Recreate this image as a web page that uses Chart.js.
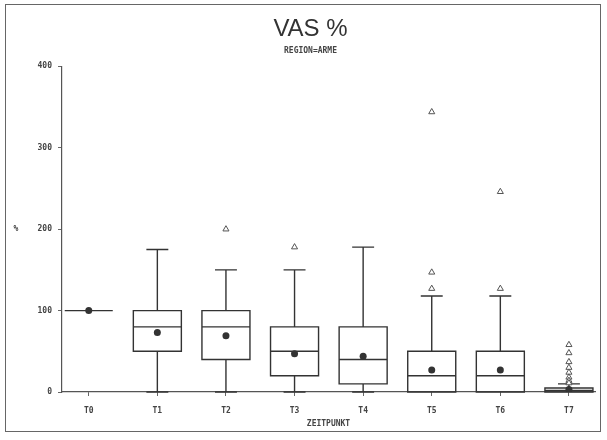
<!DOCTYPE html>
<html>
<head>
<meta charset="utf-8">
<script src="https://cdn.jsdelivr.net/npm/chart.js@4.4.1/dist/chart.umd.min.js"></script>
<style>
  html, body { margin: 0; padding: 0; background: #fff; }
  #wrap { width: 607px; height: 440px; }
</style>
</head>
<body>
<div id="wrap"><canvas id="vasChart" width="607" height="440"></canvas></div>
<script>
// categories (time points)
const categories = ['T0', 'T1', 'T2', 'T3', 'T4', 'T5', 'T6', 'T7'];

// box plot statistics per time point (VAS %)
const whiskerLow  = [100,   0,   0,   0,   0,   0,   0,  0];
const quart1      = [100,  50,  40,  20,  10,   0,   0,  0];
const medians     = [100,  80,  80,  50,  40,  20,  20,  2];
const quart3      = [100, 100, 100,  80,  80,  50,  50,  5];
const whiskerHigh = [100, 175, 150, 150, 178, 118, 118, 10];
const means       = [100,  73,  69,  47,  44,  27,  27,  3];

// outliers per time point
const outliers = [
    [],
    [],
    [200],
    [178],
    [],
    [344, 147, 127],
    [246, 127],
    [58, 48, 37, 30, 24, 18, 14, 11]
];

const yTicks = [0, 100, 200, 300, 400];

const boxHalf = 0.35;
const capHalf = 0.16;
const inkColor = '#333';
const tickFont = { family: 'DejaVu Sans Mono', size: 8, weight: 'bold' };

const meanPoints = means.map((v, i) => ({ x: i, y: v }));
const outlierPoints = [];
outliers.forEach((list, i) => list.forEach((v) => outlierPoints.push({ x: i, y: v })));

// draws boxes, medians and whiskers from the arrays above through the chart scales
const boxPlugin = {
    id: 'boxes',
    beforeDatasetsDraw(chart) {
        const { ctx, scales: { x, y } } = chart;
        ctx.save();
        ctx.strokeStyle = inkColor;
        ctx.lineWidth = 1.4;
        categories.forEach((c, i) => {
            const xl = x.getPixelForValue(i - boxHalf);
            const xr = x.getPixelForValue(i + boxHalf);
            const xc = x.getPixelForValue(i);
            const cl = x.getPixelForValue(i - capHalf);
            const cr = x.getPixelForValue(i + capHalf);
            const yq1 = y.getPixelForValue(quart1[i]);
            const yq3 = y.getPixelForValue(quart3[i]);
            const ymed = y.getPixelForValue(medians[i]);
            const ylo = y.getPixelForValue(whiskerLow[i]);
            const yhi = y.getPixelForValue(whiskerHigh[i]);

            ctx.beginPath();
            ctx.rect(xl, yq3, xr - xl, yq1 - yq3);
            ctx.moveTo(xl, ymed);
            ctx.lineTo(xr, ymed);
            if (whiskerHigh[i] > quart3[i]) {
                ctx.moveTo(xc, yq3);
                ctx.lineTo(xc, yhi);
                ctx.moveTo(cl, yhi);
                ctx.lineTo(cr, yhi);
            }
            if (whiskerLow[i] < quart1[i]) {
                ctx.moveTo(xc, yq1);
                ctx.lineTo(xc, ylo);
                ctx.moveTo(cl, ylo);
                ctx.lineTo(cr, ylo);
            }
            ctx.stroke();
        });
        ctx.restore();
    }
};

// page frame and the upright "%" axis label
const framePlugin = {
    id: 'frame',
    beforeDraw(chart) {
        const { ctx, width, height } = chart;
        ctx.save();
        ctx.fillStyle = '#fff';
        ctx.fillRect(0, 0, width, height);
        ctx.strokeStyle = '#666';
        ctx.lineWidth = 1;
        ctx.strokeRect(5.5, 4.5, width - 12, height - 13);
        ctx.restore();
    },
    afterDraw(chart) {
        const { ctx, scales: { y } } = chart;
        ctx.save();
        ctx.fillStyle = inkColor;
        ctx.font = 'bold 8px "DejaVu Sans Mono"';
        ctx.textAlign = 'center';
        ctx.textBaseline = 'middle';
        ctx.fillText('%', 16, y.getPixelForValue(200));
        ctx.restore();
    }
};

new Chart(document.getElementById('vasChart'), {
    type: 'scatter',
    data: {
        datasets: [
            {
                label: 'Mittelwert',
                data: meanPoints,
                pointStyle: 'circle',
                pointRadius: 3.5,
                backgroundColor: inkColor,
                borderColor: inkColor,
                borderWidth: 0
            },
            {
                label: 'Ausreißer',
                data: outlierPoints,
                pointStyle: 'triangle',
                pointRadius: 3.5,
                backgroundColor: '#fff',
                borderColor: '#555',
                borderWidth: 1
            }
        ]
    },
    options: {
        responsive: false,
        animation: false,
        layout: { padding: { top: 13, right: 12, bottom: 6, left: 26 } },
        plugins: {
            legend: { display: false },
            tooltip: { enabled: false },
            title: {
                display: true,
                text: 'VAS %',
                color: '#333',
                font: { family: 'Liberation Sans', size: 24, weight: 'normal' },
                padding: { top: 2, bottom: 0 }
            },
            subtitle: {
                display: true,
                text: 'REGION=ARME',
                color: '#444',
                font: tickFont,
                padding: { top: 2, bottom: 11 }
            }
        },
        scales: {
            x: {
                type: 'linear',
                min: -0.39,
                max: 7.38,
                afterBuildTicks: (scale) => {
                    scale.ticks = categories.map((c, i) => ({ value: i }));
                },
                afterFit: (scale) => { scale.height = 42; },
                grid: { display: true, drawOnChartArea: false, drawTicks: true, tickLength: 4, color: '#666' },
                border: { display: true, color: '#555', width: 1.2 },
                ticks: {
                    color: '#444',
                    font: tickFont,
                    padding: 10,
                    maxRotation: 0,
                    callback: (v) => categories[v]
                },
                title: {
                    display: true,
                    text: 'ZEITPUNKT',
                    color: '#444',
                    font: tickFont,
                    padding: { top: 0, bottom: 5 }
                }
            },
            y: {
                min: 0,
                max: 400,
                afterBuildTicks: (scale) => {
                    scale.ticks = yTicks.map((v) => ({ value: v }));
                },
                afterFit: (scale) => { scale.width = 36; },
                grid: { display: true, drawOnChartArea: false, drawTicks: true, tickLength: 4, color: '#666' },
                border: { display: true, color: '#555', width: 1.2 },
                ticks: {
                    color: '#444',
                    font: tickFont,
                    padding: 6
                }
            }
        }
    },
    plugins: [framePlugin, boxPlugin]
});
</script>
</body>
</html>
